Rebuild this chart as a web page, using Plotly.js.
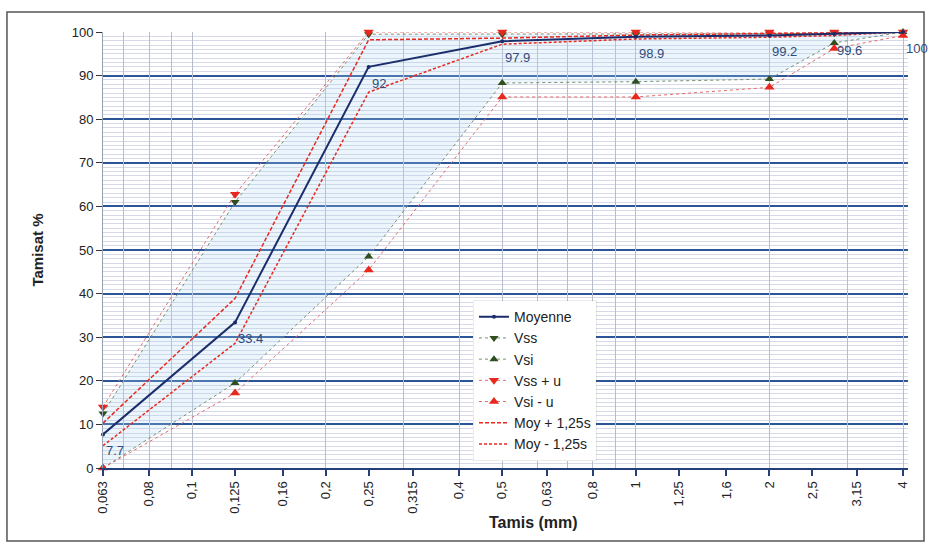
<!DOCTYPE html>
<html>
<head>
<meta charset="utf-8">
<script src="https://cdn.plot.ly/plotly-3.0.1.min.js"></script>
<style>html,body{margin:0;padding:0;background:#fff;}#chart{width:928px;height:545px;}</style>
</head>
<body>
<div id="chart"></div>
<script>
// Sieve sizes (mm) at which measurements were taken
const sieves = [0.063, 0.125, 0.25, 0.5, 1, 2, 2.8, 4];
// Series (Tamisat %)
const moyenne = [7.7, 33.4, 92, 97.9, 98.9, 99.2, 99.6, 100];
const moyenneLabels = ['7.7', '33.4', '92', '97.9', '98.9', '99.2', '99.6', '100'];
const vss = [12.5, 61, 99.5, 99.5, 99.5, 99.6, 99.7, 100];
const vsi = [0, 19.5, 48.5, 88.3, 88.6, 89.2, 97.5, 100];
const vssPlusU = [14, 62.8, 100, 100, 100, 100, 100, 100];
const vsiMinusU = [0, 17.2, 45.4, 85.1, 85.1, 87.3, 96.2, 99.2];
const moyPlus = [10.3, 38.9, 98.2, 98.6, 99.3, 99.6, 99.9, 100];
const moyMinus = [5.1, 28.6, 86.2, 97.2, 98.4, 98.8, 99.2, 100];

// Axis tick values / labels
const xTickVals = [0.063, 0.08, 0.1, 0.125, 0.16, 0.2, 0.25, 0.315, 0.4, 0.5, 0.63, 0.8, 1, 1.25, 1.6, 2, 2.5, 3.15, 4];
const xTickText = ['0,063', '0,08', '0,1', '0,125', '0,16', '0,2', '0,25', '0,315', '0,4', '0,5', '0,63', '0,8', '1', '1,25', '1,6', '2', '2,5', '3,15', '4'];
const xGridVals = [0.07, 0.08, 0.09, 0.1, 0.2, 0.3, 0.4, 0.5, 0.6, 0.7, 0.8, 0.9, 1, 2, 3, 4];

const xRange = [Math.log10(0.063), Math.log10(4.105)];

const red = '#e8281e';
const green = '#2f4f1f';
const fontFam = 'Arial, "Liberation Sans", sans-serif';

const traces = [
  // shaded band between Vsi and Vss
  {x: sieves, y: vsi, mode: 'lines', line: {width: 0}, showlegend: false, hoverinfo: 'skip'},
  {x: sieves, y: vss, mode: 'lines', line: {width: 0}, fill: 'tonexty', fillcolor: 'rgba(175,215,240,0.25)', showlegend: false, hoverinfo: 'skip'},
  // empty trace to carry the gridline axis
  {x: [], y: [], xaxis: 'x2', showlegend: false, hoverinfo: 'skip'},
  {name: 'Vss', legendrank: 2, x: sieves, y: vss, mode: 'lines+markers', cliponaxis: false,
   line: {color: '#7b8f70', width: 1, dash: 'dot'}, marker: {symbol: 'triangle-down', size: 8, color: green}},
  {name: 'Vsi', legendrank: 3, x: sieves, y: vsi, mode: 'lines+markers', cliponaxis: false,
   line: {color: '#7b8f70', width: 1, dash: 'dot'}, marker: {symbol: 'triangle-up', size: 8, color: green}},
  {name: 'Vss + u', legendrank: 4, x: sieves, y: vssPlusU, mode: 'lines+markers', cliponaxis: false,
   line: {color: '#e46a6a', width: 1, dash: 'dot'}, marker: {symbol: 'triangle-down', size: 9, color: red}},
  {name: 'Vsi - u', legendrank: 5, x: sieves, y: vsiMinusU, mode: 'lines+markers', cliponaxis: false,
   line: {color: '#e46a6a', width: 1, dash: 'dot'}, marker: {symbol: 'triangle-up', size: 9, color: red}},
  {name: 'Moy + 1,25s', legendrank: 6, x: sieves, y: moyPlus, mode: 'lines', cliponaxis: false,
   line: {color: red, width: 1.5, dash: '4px,2px'}},
  {name: 'Moy - 1,25s', legendrank: 7, x: sieves, y: moyMinus, mode: 'lines', cliponaxis: false,
   line: {color: red, width: 1.5, dash: '3px,2px'}},
  {name: 'Moyenne', legendrank: 1, x: sieves, y: moyenne, mode: 'lines+markers', cliponaxis: false,
   line: {color: '#1c2d6b', width: 2}, marker: {symbol: 'circle', size: 4, color: '#1c2d6b'}}
];

// data labels of the mean curve, built from the data arrays
const labelAnnotations = sieves.map((s, i) => ({
  x: Math.log10(s), y: moyenne[i], xref: 'x', yref: 'y', text: moyenneLabels[i],
  showarrow: false, xanchor: 'left', yanchor: 'top', xshift: 1, yshift: -7,
  font: {family: fontFam, size: 13, color: '#2d4c7c'}
}));

const layout = {
  width: 928, height: 545,
  margin: {l: 103, r: 20, t: 32, b: 77},
  paper_bgcolor: '#ffffff', plot_bgcolor: '#ffffff',
  font: {family: fontFam, size: 13, color: '#222'},
  showlegend: true,
  legend: {x: 0.4596, y: 0.385, xanchor: 'left', yanchor: 'top', bgcolor: '#ffffff',
           bordercolor: 'rgba(0,0,0,0.08)', borderwidth: 1, font: {size: 14, color: '#222'},
           traceorder: 'normal', entrywidth: 110},
  xaxis: {type: 'log', range: xRange, tickmode: 'array', tickvals: xTickVals, ticktext: xTickText,
          tickangle: -90, showgrid: false, zeroline: false, showline: true, linecolor: '#23407a', linewidth: 2,
          ticks: 'outside', ticklen: 6, tickwidth: 2, tickcolor: '#23407a', tickfont: {size: 13, color: '#222'}},
  xaxis2: {type: 'log', range: xRange, overlaying: 'x', anchor: 'y', tickmode: 'array', tickvals: xGridVals,
           showticklabels: false, ticks: '', showgrid: true, gridcolor: '#b8bdcc', gridwidth: 1, zeroline: false, showline: false},
  yaxis: {range: [0, 100], tickmode: 'linear', tick0: 0, dtick: 10, showgrid: true, gridcolor: '#2a5599', gridwidth: 2,
          zeroline: false, showline: true, linecolor: '#9aa0b4', linewidth: 1,
          ticks: 'outside', ticklen: 6, tickcolor: '#333', tickfont: {size: 13, color: '#222'},
          minor: {dtick: 1, showgrid: true, gridcolor: '#d5d9e8', gridwidth: 1},
          title: {text: 'Tamisat %', font: {size: 15, weight: 'bold', color: '#222'}, standoff: 24}},
  annotations: labelAnnotations.concat([
    {text: 'Tamis (mm)', xref: 'paper', yref: 'paper', x: 0.535, y: -0.126, xanchor: 'center', yanchor: 'middle',
     showarrow: false, font: {size: 16, weight: 'bold', color: '#222'}}
  ]),
  shapes: [
    {type: 'rect', xref: 'paper', yref: 'paper', x0: -0.1193, x1: 1.0199, y0: -0.1674, y1: 1.0459,
     line: {color: '#555', width: 1.5}, fillcolor: 'rgba(0,0,0,0)', layer: 'below'}
  ]
};

Plotly.newPlot('chart', traces, layout, {displayModeBar: false, staticPlot: true});
</script>
</body>
</html>
